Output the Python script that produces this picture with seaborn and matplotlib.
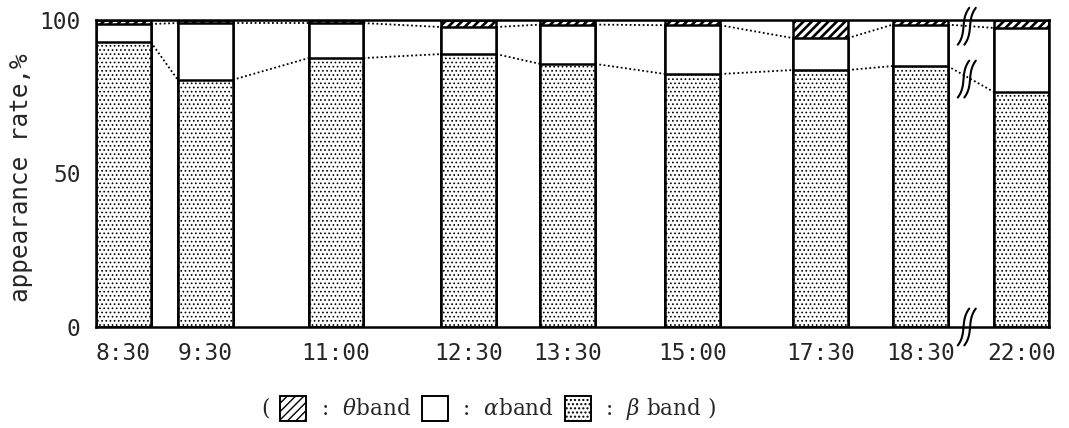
import numpy as np
import pandas as pd
import seaborn as sns
import matplotlib.pyplot as plt
from matplotlib.patches import Patch

# measurement times (axis is broken between 18:30 and 22:00)
times = ["8:30", "9:30", "11:00", "12:30", "13:30", "15:00", "17:30", "18:30", "22:00"]
# placement of each bar along the drawn time axis
slot = [0.0, 1.0, 2.6, 4.22, 5.43, 6.96, 8.52, 9.74, 10.98]
# appearance rate (%) per band
beta = [92.8, 80.5, 87.6, 88.9, 85.7, 82.4, 83.7, 85.0, 76.5]
alpha = [5.9, 18.5, 11.4, 8.8, 12.8, 15.9, 10.4, 13.5, 20.9]
theta = [1.3, 1.0, 1.0, 2.3, 1.5, 1.7, 5.9, 1.5, 2.6]

df = pd.DataFrame({"slot": slot, "time": times, "beta": beta,
                   "alpha": alpha, "theta": theta})
df["alpha_top"] = df["beta"] + df["alpha"]
df["total"] = df["alpha_top"] + df["theta"]

sns.set_style("white")
plt.rcParams["font.family"] = ["DejaVu Sans Mono"]
plt.rcParams["mathtext.fontset"] = "dejavuserif"
plt.rcParams["hatch.color"] = "black"

fig = plt.figure(figsize=(10.69, 4.28), dpi=100)
ax = fig.add_axes([0.0898, 0.236, 0.8915, 0.7173])

bar_w = 0.67
dots = "...."
common = dict(x="slot", native_scale=True, width=bar_w, errorbar=None,
              color="white", saturation=1, edgecolor="black", linewidth=1.8, ax=ax)

# stacked bars: draw cumulative heights from the top down
sns.barplot(data=df, y="total", hatch="////", **common)
n_theta = len(ax.patches)
sns.barplot(data=df, y="alpha_top", **common)
sns.barplot(data=df, y="beta", hatch=dots, **common)

for i, p in enumerate(ax.patches):
    lw = 1.9 if i < n_theta else 0.7
    if hasattr(p, "set_hatch_linewidth"):
        p.set_hatch_linewidth(lw)

# dotted lines joining band boundaries of neighbouring bars
for level in ["beta", "alpha_top"]:
    for i in range(len(df) - 1):
        ax.plot([df.slot[i] + bar_w / 2, df.slot[i + 1] - bar_w / 2],
                [df[level][i], df[level][i + 1]],
                ls=(0, (1, 1.4)), color="black", lw=1.3, zorder=3)


def squiggle(xc, yc):
    # pair of integral-sign shaped break marks
    u = np.linspace(-1, 1, 60)
    for off in (-0.04, 0.04):
        xs = xc + off + 0.02 * u + 0.05 * u ** 3
        ys = yc + 6 * u
        ax.plot(xs, ys, color="black", lw=1.5, clip_on=False, zorder=5)


# axis break marks between 18:30 and 22:00
xb = (df.slot.iloc[-2] + df.slot.iloc[-1]) / 2 - 0.05
yb_top = (df.alpha_top.iloc[-2] + df.alpha_top.iloc[-1]) / 2
yb_low = (df.beta.iloc[-2] + df.beta.iloc[-1]) / 2
for yb in (yb_top, yb_low, 0):
    squiggle(xb, yb)

ax.set_xlim(df.slot.iloc[0] - bar_w / 2, df.slot.iloc[-1] + bar_w / 2)
ax.set_ylim(0, 100)
ax.set_xticks(df.slot, df.time)
ax.set_yticks([0, 50, 100])
ax.tick_params(length=0, labelsize=16.5)
ax.tick_params(axis="x", pad=11)
ax.tick_params(axis="y", pad=11)
ax.set_xlabel("")
ax.set_ylabel("appearance rate,%", fontsize=17.5)
ax.yaxis.set_label_coords(-0.066, 0.485)
for s in ax.spines.values():
    s.set_linewidth(1.8)
    s.set_color("black")

handles = [Patch(facecolor="white", edgecolor="black", hatch="////", lw=1.4),
           Patch(facecolor="white", edgecolor="black", lw=1.4),
           Patch(facecolor="white", edgecolor="black", hatch=dots, lw=1.4)]
labels = [" :  $\\theta$band", " :  $\\alpha$band", " :  $\\beta$ band )"]
leg = fig.legend(handles, labels, loc="center", bbox_to_anchor=(0.466, 0.045),
                 ncol=3, frameon=False, handlelength=1.2, handleheight=1.4,
                 handletextpad=0.4, columnspacing=0.5,
                 prop={"family": "DejaVu Serif", "size": 15.5})

fig.canvas.draw()
bb = leg.get_window_extent().transformed(fig.transFigure.inverted())
fig.text(bb.x0 - 0.002, 0.045, "(", ha="right", va="center",
         family="DejaVu Serif", fontsize=15.5)

fig.savefig("out.png", dpi=100)
